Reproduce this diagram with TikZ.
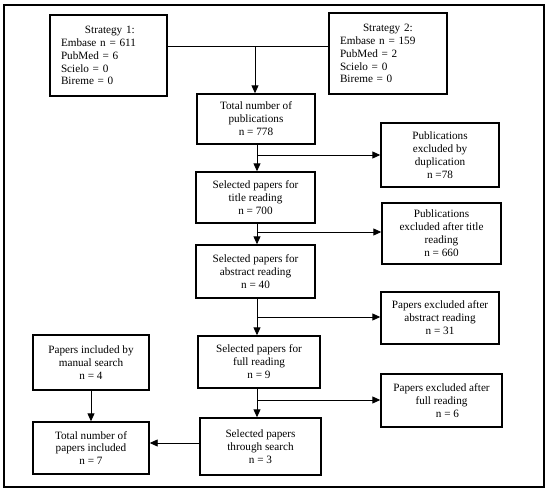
\documentclass[tikz,border=0pt]{standalone}
\usepackage{fontspec}
\setmainfont{Liberation Serif}
\usetikzlibrary{arrows.meta}
\tikzset{
  box/.style={draw, line width=1.4pt, inner sep=0pt, align=center,
    font=\fontsize{11.2}{12.9}\selectfont},
  arr/.style={line width=0.9pt, -{Triangle[length=8pt,width=7pt]}},
  conn/.style={line width=0.9pt},
  frame/.style={draw, line width=2.2pt}
}
\begin{document}
\begin{tikzpicture}[x=1pt,y=-1pt]
\useasboundingbox (0,0) rectangle (550,493);
\draw[frame] (4,5) rectangle (544,487);

\node[box, minimum width=117pt, minimum height=81pt, text width=95pt, align=left] (s1) at (108.5,55.5)
  {\hspace*{24pt}Strategy 1:\\Embase n = 611\\PubMed = 6\\Scielo = 0\\Bireme = 0};
\node[box, minimum width=118pt, minimum height=81pt, text width=96pt, align=left] (s2) at (388,53.5)
  {\hspace*{23pt}Strategy 2:\\Embase n = 159\\PubMed = 2\\Scielo = 0\\Bireme = 0};
\node[box, minimum width=118pt, minimum height=50pt] (total) at (256,119)
  {Total number of\\publications\\n = 778};
\node[box, minimum width=118pt, minimum height=64pt] (dup) at (440,155)
  {Publications\\excluded by\\duplication\\n =78};
\node[box, minimum width=119pt, minimum height=51pt] (title) at (255.5,197.5)
  {Selected papers for\\title reading\\n = 700};
\node[box, minimum width=119pt, minimum height=61pt] (extitle) at (441.5,233.5)
  {Publications\\excluded after title\\reading\\n = 660};
\node[box, minimum width=119pt, minimum height=53pt] (abstract) at (255.5,271.5)
  {Selected papers for\\abstract reading\\n = 40};
\node[box, minimum width=118pt, minimum height=52pt] (exabs) at (440,318)
  {Papers excluded after\\abstract reading\\n = 31};
\node[box, minimum width=122pt, minimum height=52pt] (full) at (259,362)
  {Selected papers for\\full reading\\n = 9};
\node[box, minimum width=121pt, minimum height=53pt] (exfull) at (441.5,400.5)
  {Papers excluded after\\full reading\\\hspace*{12pt}n = 6};
\node[box, minimum width=121pt, minimum height=57pt] (search) at (260.5,446.5)
  {Selected papers\\through search\\n = 3};
\node[box, minimum width=116pt, minimum height=55pt] (manual) at (91,362.5)
  {Papers included by\\manual search\\n = 4};
\node[box, minimum width=116pt, minimum height=52pt] (totalinc) at (91,448)
  {Total number of\\papers included\\n = 7};

\coordinate (j1) at (255,46);
\coordinate (j2) at (257,155);
\coordinate (j3) at (257,232);
\coordinate (j4) at (257,317);
\coordinate (j5) at (257,400);
\coordinate (j6) at (200,443);

\draw[conn] (s1.east |- j1) -- (s2.west |- j1);
\draw[arr] (j1) -- (j1 |- total.north);

\draw[arr] (total.south -| j2) -- (title.north -| j2);
\draw[arr] (j2) -- (dup.west |- j2);

\draw[arr] (title.south -| j3) -- (abstract.north -| j3);
\draw[arr] (j3) -- (extitle.west |- j3);

\draw[arr] (abstract.south -| j4) -- (full.north -| j4);
\draw[arr] (j4) -- (exabs.west |- j4);

\draw[arr] (full.south -| j5) -- (search.north -| j5);
\draw[arr] (j5) -- (exfull.west |- j5);

\draw[arr] (search.west |- j6) -- (totalinc.east |- j6);
\draw[arr] (manual) -- (totalinc);
\end{tikzpicture}
\end{document}
